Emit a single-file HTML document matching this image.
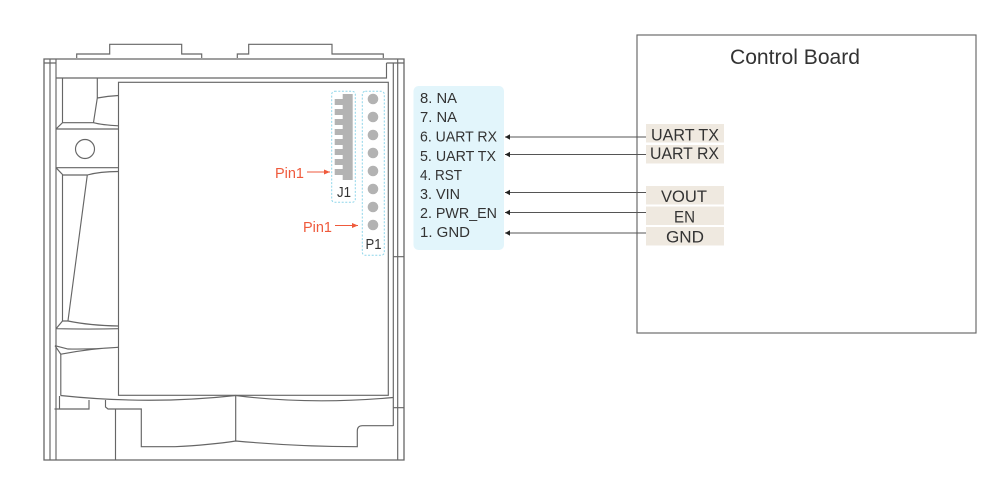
<!DOCTYPE html>
<html>
<head>
<meta charset="utf-8">
<style>
html,body{margin:0;padding:0;background:#fff;width:1000px;height:500px;overflow:hidden}
svg{display:block}
text{font-family:"Liberation Sans",sans-serif}
</style>
</head>
<body>
<svg width="1000" height="500" viewBox="0 0 1000 500" xmlns="http://www.w3.org/2000/svg">
<defs>
<marker id="blk" markerWidth="6" markerHeight="6" refX="5" refY="3" orient="auto-start-reverse" markerUnits="userSpaceOnUse"><path d="M0,0.3L5,3L0,5.7z" fill="#222"/></marker>
<marker id="red" markerWidth="7" markerHeight="6" refX="6" refY="3" orient="auto" markerUnits="userSpaceOnUse"><path d="M0,0.5L6,3L0,5.5z" fill="#ef5a3c"/></marker>
</defs>

<!-- Module mechanical outline -->
<g fill="none" stroke="#666" stroke-width="1.15">
<path d="M44,59H404V460H44Z" stroke-width="1.3"/>
<path d="M50,59V460M56,59V460M44,63H56M386.5,63H404M56,78H386.5V63M397.7,59V460M393.3,63V426"/>
<path d="M393.3,256.7H404M393.3,407.7H404"/>
<path d="M76.7,58V54H109.7V44.3H181.7V54H201.7V58"/>
<path d="M237.3,58V54H248.7V44.3H332V54H383.3V58"/>
<rect x="118.5" y="82.3" width="269.8" height="313"/>
<!-- left fan details -->
<path d="M62.5,78V122.7M97.3,78V98Q108,96 118.5,95.5M97.3,98L93.5,122.5"/>
<path d="M56,129L62.5,122.7H93.5Q102,125 118.5,125.8M56,129H118.5"/>
<circle cx="85" cy="149" r="9.5"/>
<path d="M56,167.7H118.5M56,167.7L63,175H87.3Q100,171.5 118.5,171.5"/>
<path d="M62.5,175V321M87.3,175L68,320.7"/>
<path d="M56,328.7L62.5,321H68Q90,325.5 118.5,326M56,328.7Q90,329.5 118.5,328.7"/>
<path d="M55,345.7L60.8,354.2Q90,348.5 118.5,347.3M55,345.7L68,349Q90,349.5 118.5,347.3"/>
<path d="M60.8,354.2V395.5"/>
<path d="M60.5,395.5Q150,405 235.7,395.5Q310,405 393.3,397.5"/>
<path d="M59.5,396V409M54.5,409H89V400M105.5,400V407L108,409H141.3V446.7H175Q210,445 235.7,441Q300,446.7 357.3,446.7V431Q357.3,425.7 362.5,425.7H393.3"/>
<path d="M115.5,409V460M235.7,395.5V441"/>
</g>

<!-- J1 -->
<rect x="331.7" y="91.3" width="23.6" height="111" rx="3" fill="none" stroke="#8fd6ea" stroke-width="1" stroke-dasharray="2 1.6"/>
<g fill="#b3b3b3">
<rect x="342.7" y="94" width="10" height="86"/>
<rect x="334.7" y="99" width="8.5" height="6"/>
<rect x="334.7" y="109" width="8.5" height="6"/>
<rect x="334.7" y="119" width="8.5" height="6"/>
<rect x="334.7" y="129" width="8.5" height="6"/>
<rect x="334.7" y="139" width="8.5" height="6"/>
<rect x="334.7" y="149" width="8.5" height="6"/>
<rect x="334.7" y="159" width="8.5" height="6"/>
<rect x="334.7" y="169" width="8.5" height="6"/>
</g>
<text x="337" y="197" font-size="15" fill="#333" textLength="14" lengthAdjust="spacingAndGlyphs">J1</text>

<!-- P1 -->
<rect x="362.3" y="91.3" width="22" height="164" rx="3" fill="none" stroke="#8fd6ea" stroke-width="1" stroke-dasharray="2 1.6"/>
<g fill="#b3b3b3">
<circle cx="373" cy="99" r="5.3"/>
<circle cx="373" cy="117" r="5.3"/>
<circle cx="373" cy="135" r="5.3"/>
<circle cx="373" cy="153" r="5.3"/>
<circle cx="373" cy="171" r="5.3"/>
<circle cx="373" cy="189" r="5.3"/>
<circle cx="373" cy="207" r="5.3"/>
<circle cx="373" cy="225" r="5.3"/>
</g>
<text x="365.5" y="249" font-size="15" fill="#333" textLength="16" lengthAdjust="spacingAndGlyphs">P1</text>

<!-- Pin1 callouts -->
<text x="275" y="178" font-size="15" fill="#ef5a3c" textLength="29" lengthAdjust="spacingAndGlyphs">Pin1</text>
<line x1="307" y1="172" x2="330" y2="172" stroke="#ef5a3c" stroke-width="1.1" marker-end="url(#red)"/>
<text x="303" y="232" font-size="15" fill="#ef5a3c" textLength="29" lengthAdjust="spacingAndGlyphs">Pin1</text>
<line x1="335" y1="225.5" x2="358" y2="225.5" stroke="#ef5a3c" stroke-width="1.1" marker-end="url(#red)"/>

<!-- Pin list -->
<rect x="413.5" y="86" width="90.5" height="164" rx="5" fill="#e2f5fb"/>
<g font-size="15" fill="#333">
<text x="420" y="103" textLength="37" lengthAdjust="spacingAndGlyphs">8. NA</text>
<text x="420" y="122" textLength="37" lengthAdjust="spacingAndGlyphs">7. NA</text>
<text x="420" y="141.5" textLength="77" lengthAdjust="spacingAndGlyphs">6. UART RX</text>
<text x="420" y="161" textLength="76" lengthAdjust="spacingAndGlyphs">5. UART TX</text>
<text x="420" y="180" textLength="42" lengthAdjust="spacingAndGlyphs">4. RST</text>
<text x="420" y="199" textLength="40" lengthAdjust="spacingAndGlyphs">3. VIN</text>
<text x="420" y="218" textLength="77" lengthAdjust="spacingAndGlyphs">2. PWR_EN</text>
<text x="420" y="237" textLength="50" lengthAdjust="spacingAndGlyphs">1. GND</text>
</g>

<!-- Control board -->
<rect x="637" y="35" width="339" height="298" fill="#fff" stroke="#666" stroke-width="1.15"/>
<text x="730" y="64" font-size="21" fill="#333" textLength="130" lengthAdjust="spacingAndGlyphs">Control Board</text>

<g fill="#efe9e0">
<rect x="646" y="124" width="78" height="18.5"/>
<rect x="646" y="145" width="78" height="18.5"/>
<rect x="646" y="186" width="78" height="18.5"/>
<rect x="646" y="206.5" width="78" height="18.5"/>
<rect x="646" y="227" width="78" height="18.5"/>
</g>

<g stroke="#555" stroke-width="1.1" marker-end="url(#blk)">
<line x1="646" y1="137" x2="505" y2="137"/>
<line x1="646" y1="154.5" x2="505" y2="154.5"/>
<line x1="646" y1="192.5" x2="505" y2="192.5"/>
<line x1="646" y1="212.5" x2="505" y2="212.5"/>
<line x1="646" y1="233" x2="505" y2="233"/>
</g>

<g font-size="17" fill="#333">
<text x="651" y="140.5" textLength="68" lengthAdjust="spacingAndGlyphs">UART TX</text>
<text x="650" y="159" textLength="69" lengthAdjust="spacingAndGlyphs">UART RX</text>
<text x="661" y="202" textLength="46" lengthAdjust="spacingAndGlyphs">VOUT</text>
<text x="674" y="222.5" textLength="21" lengthAdjust="spacingAndGlyphs">EN</text>
<text x="666" y="242.5" textLength="38" lengthAdjust="spacingAndGlyphs">GND</text>
</g>
</svg>
</body>
</html>
